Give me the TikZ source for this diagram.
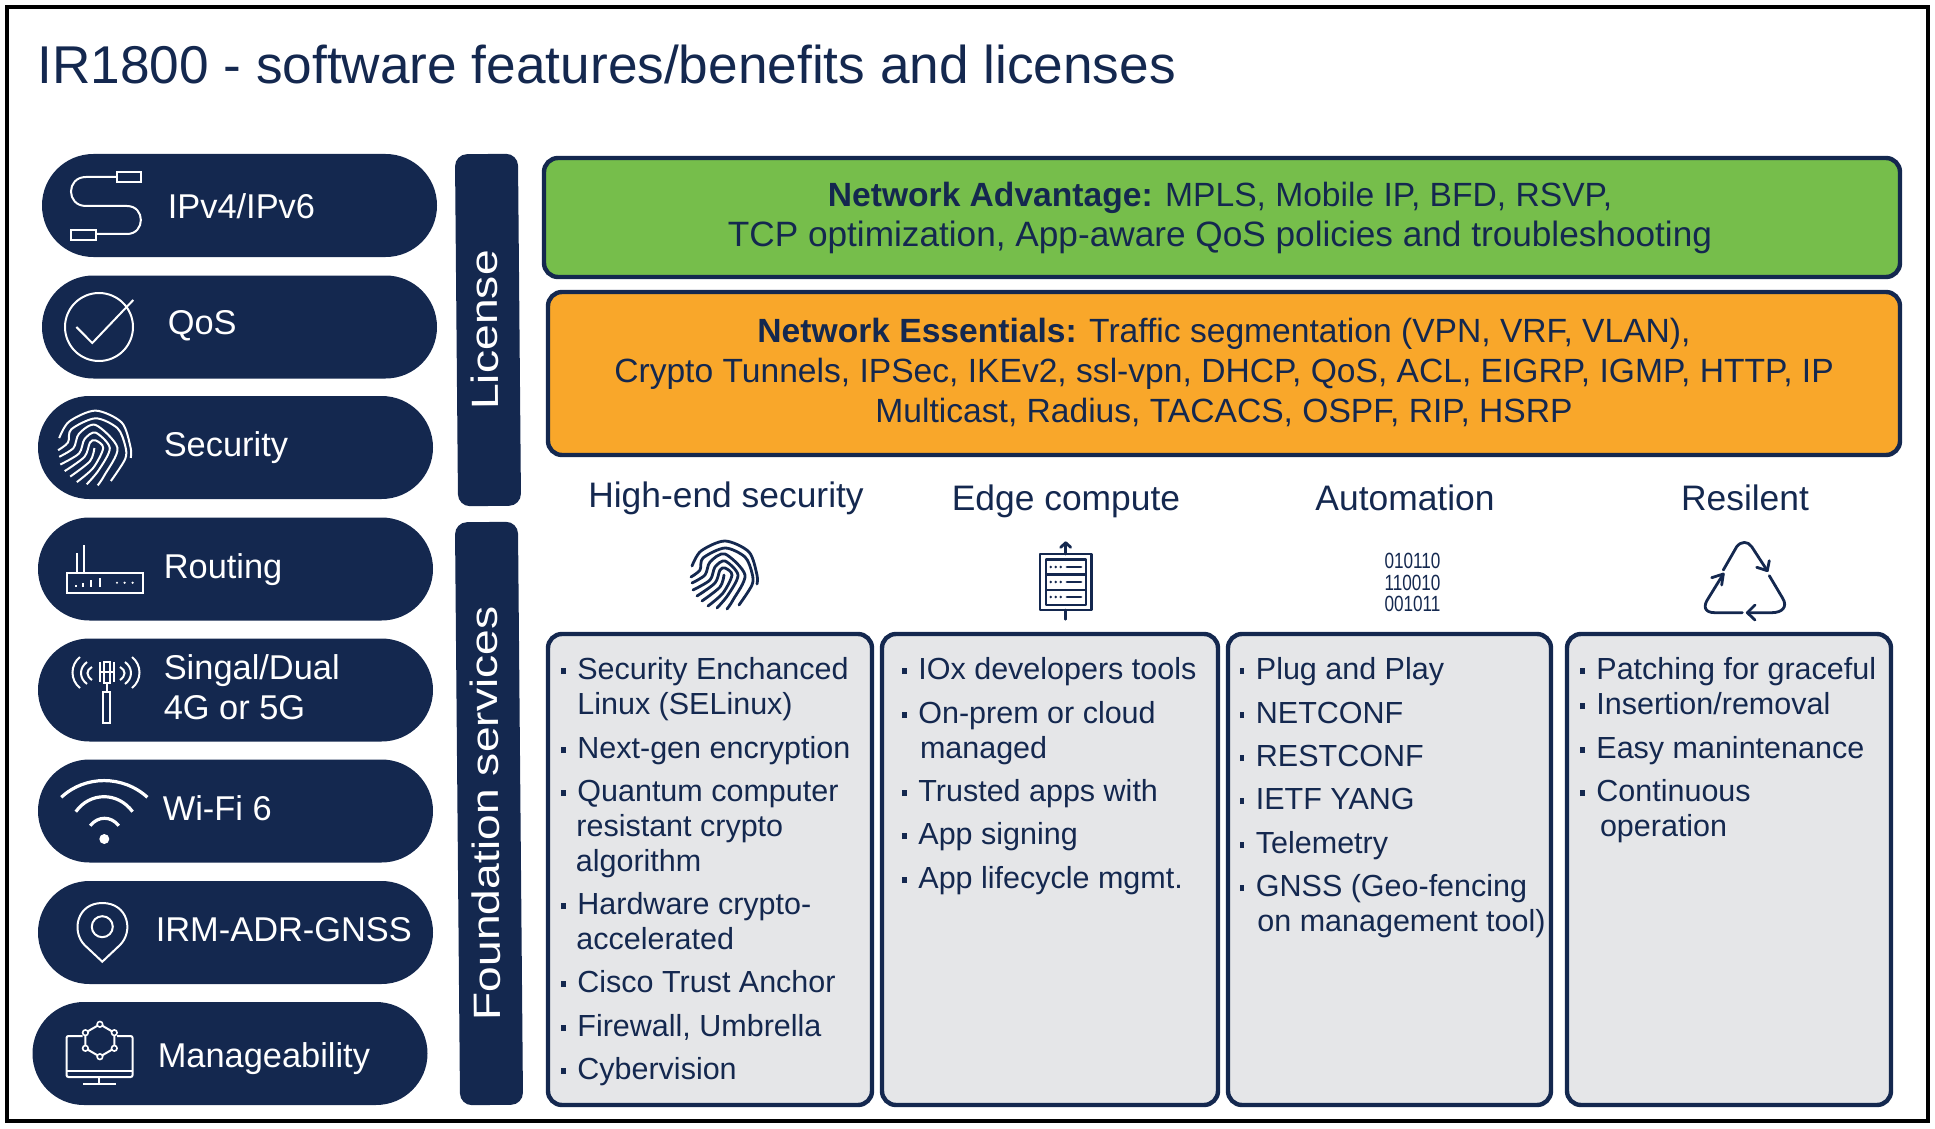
\documentclass[tikz,border=0pt]{standalone}
\usepackage{fontspec}
\setmainfont{Liberation Sans}
\newfontfamily\barfont[FakeStretch=1.22]{Liberation Sans}
\newfontfamily\bitfont[FakeStretch=0.78]{Liberation Sans}
\definecolor{navy}{HTML}{14284F}
\definecolor{leaf}{HTML}{76BE4B}
\definecolor{amber}{HTML}{F9A72A}
\definecolor{panel}{HTML}{E5E6E8}
\tikzset{
    pillbox/.style={fill=navy, minimum width=197.5pt, minimum height=51.5pt, inner sep=0pt, rounded corners=25.7pt},
    pilltext/.style={anchor=base west, inner sep=0pt, xshift=-0.8pt, yshift=-0.7pt, text=white, font=\fontsize{17.2}{20}\selectfont},
    barbox/.style={fill=navy, text=white, rotate=90.5, minimum height=31.5pt, inner sep=0pt, text depth=4pt, rounded corners=6pt},
    licbox/.style={draw=navy, line width=2.2pt, rounded corners=7pt, inner sep=0pt},
    lictext/.style={inner sep=0pt, align=center, text=navy, font=\fontsize{16.8}{20}\selectfont},
    colbox/.style={draw=navy, fill=panel, line width=2.2pt, rounded corners=7pt},
    coltitle/.style={anchor=base, inner sep=0pt, text=navy, font=\fontsize{17.7}{20}\selectfont},
    listtext/.style={anchor=base west, inner sep=0pt, xshift=-0.5pt, yshift=-0.6pt, text=navy, font=\fontsize{15.25}{18}\selectfont},
    lineicon/.style={white, line width=1pt},
    darkicon/.style={navy, line width=1.4pt, line cap=round, line join=round}
}
\newcommand{\blt}{\makebox[8pt][l]{\rule[2.5pt]{2.2pt}{3pt}}}
\newcommand{\fprint}[4]{
    \begin{scope}[shift={(#1,#2)}, scale=#3]
        \draw[#4] plot[smooth] coordinates {(-33,-9) (-24,-24) (0,-34) (24,-23) (32,0) (32,9)};
        \draw[#4] plot[smooth] coordinates {(-34,2) (-25,-5) (-22,-17) (0,-27) (20,-18) (27,-2) (27,10) (14,30)};
        \draw[#4] plot[smooth] coordinates {(-33,8) (-20,0) (-15,-13) (0,-21) (20,0) (8,25) (2,34)};
        \draw[#4] plot[smooth] coordinates {(-32,15) (-15,5) (-10,-8) (0,-14) (13,0) (3,20) (-8,33)};
        \draw[#4] plot[smooth] coordinates {(-28,21) (-10,8) (-5,-5) (0,-7) (7,0) (-2,18) (-17,31)};
        \draw[#4] plot[smooth] coordinates {(-23,26) (-5,12) (-1,0)};
    \end{scope}
}
\begin{document}
\begin{tikzpicture}[x=0.5pt, y=-0.5pt]
    \useasboundingbox (0,0) rectangle (1935,1129);
    \draw[black, line width=2pt] (7,7) rectangle (1928,1121);
    \node[anchor=base west, inner sep=0pt, text=navy, font=\fontsize{26.6}{30}\selectfont] (title) at (37,84) {IR1800 - software features/benefits and licenses};

    \node[pillbox] (ipv) at (239.5,205.5) {};
    \node[pillbox] (qos) at (239.5,327) {};
    \node[pillbox] (sec) at (235.5,447.5) {};
    \node[pillbox] (rout) at (235.5,569) {};
    \node[pillbox] (cell) at (235.5,690) {};
    \node[pillbox] (wifi) at (235.5,811) {};
    \node[pillbox] (gnss) at (235.5,932.5) {};
    \node[pillbox] (mgmt) at (230,1053.5) {};

    \node[pilltext] (ipvtext) at (169,217) {IPv4/IPv6};
    \node[pilltext] (qostext) at (169,333) {QoS};
    \node[pilltext] (sectext) at (165,455) {Security};
    \node[pilltext] (routtext) at (165,577) {Routing};
    \node[pilltext] (celltext) at (165,678) {Singal/Dual};
    \node[pilltext] (cellnext) at (165,718) {4G or 5G};
    \node[pilltext] (wifitext) at (164,819) {Wi-Fi 6};
    \node[pilltext] (gnsstext) at (157,940) {IRM-ADR-GNSS};
    \node[pilltext] (mgmttext) at (159,1066) {Manageability};

    \draw[lineicon] (117,172) rectangle (140.5,182);
    \draw[lineicon] (71,230) rectangle (96,240);
    \draw[lineicon] (117,177) -- (86,177) .. controls (66,177) and (66,206) .. (86,206) -- (127,206) .. controls (145.5,206) and (145.5,234) .. (127,234) -- (96,234);

    \draw[lineicon] (99,327) circle (34);
    \draw[lineicon] (76.4,327) -- (92.3,343) -- (133.3,300);

    \fprint{95.5}{448}{1.1}{lineicon}

    \draw[lineicon] (66.5,572.7) rectangle (143,593);
    \draw[lineicon] (76.5,553) -- (76.5,572.7);
    \draw[lineicon] (84,545) -- (84,572.7);
    \draw[lineicon] (76.4,587) -- (76.4,585);
    \draw[lineicon] (82.6,587) -- (82.6,583);
    \draw[lineicon] (91,587) -- (91,580);
    \draw[lineicon] (100,587) -- (100,578);
    \fill[white] (117,582.7) circle (1.2) (124.6,582.7) circle (1.2) (132.6,582.7) circle (1.2);

    \draw[lineicon] (103.3,691.7) rectangle (109.5,723);
    \draw[lineicon] (106.5,683) -- (106.5,691.7);
    \draw[lineicon] (100,672) -- (113.6,672);
    \draw[lineicon] (100,662) -- (100,682);
    \draw[lineicon] (113.6,662) -- (113.6,682);
    \draw[lineicon] (103.5,662) rectangle (110,683);
    \draw[lineicon] (80,657) .. controls (70,665) and (70,680) .. (80,688);
    \draw[lineicon] (87,662) .. controls (79,668) and (79,678) .. (87,684);
    \draw[lineicon] (92,667) .. controls (86,670) and (86,676) .. (92,680);
    \draw[lineicon] (132,657) .. controls (142,665) and (142,680) .. (132,688);
    \draw[lineicon] (125,662) .. controls (133,668) and (133,678) .. (125,684);
    \draw[lineicon] (120,667) .. controls (126,670) and (126,676) .. (120,680);

    \fill[white] (104.3,839) circle (5);
    \draw[white, line width=1.6pt] (61.3,797.3) .. controls (85,775) and (123,775) .. (147.4,797.3);
    \draw[white, line width=1.6pt] (75.8,811.7) .. controls (90,791.7) and (118,791.7) .. (132.6,811.7);
    \draw[white, line width=1.6pt] (90.2,825.7) .. controls (98,815.8) and (111,815.8) .. (118.8,825.7);

    \draw[lineicon] (102.3,926.7) circle (10.5);
    \draw[lineicon] (102.3,961.7) -- (84.5,945) .. controls (71,931) and (77,903) .. (102.3,903) .. controls (128,903) and (134,931) .. (120,945) -- cycle;

    \draw[lineicon, rounded corners=1pt] (82.6,1036) -- (66.5,1036) -- (66.5,1077) -- (132.6,1077) -- (132.6,1036) -- (117,1036);
    \draw[lineicon] (66.5,1070.7) -- (132.6,1070.7);
    \draw[lineicon] (99,1077) -- (99,1084);
    \draw[lineicon] (83.3,1084) -- (116,1084);
    \draw[lineicon] (99.9,1024.3) -- (114.3,1032.7) -- (114.3,1048.3) -- (99.9,1056.7) -- (85.4,1048.3) -- (85.4,1032.7) -- cycle;
    \filldraw[fill=navy, draw=white, line width=0.8pt] (99.9,1024.3) circle (2.8) (114.3,1032.7) circle (2.8) (114.3,1048.3) circle (2.8) (99.9,1056.7) circle (2.8) (85.4,1048.3) circle (2.8) (85.4,1032.7) circle (2.8);

    \node[barbox, minimum width=176pt, font=\barfont\fontsize{19}{20}\selectfont] (license) at (488,330) {License};
    \node[barbox, minimum width=291.5pt, font=\barfont\fontsize{19}{20}\selectfont] (foundation) at (489,813.5) {Foundation services};

    \node[licbox, fill=leaf, minimum width=678pt, minimum height=59.5pt] (advantage) at (1222,217.5) {};
    \node[lictext] (advtext) at (1220,217.5) {\textbf{Network Advantage:} MPLS, Mobile IP, BFD, RSVP,\\{\fontsize{17.6}{20}\selectfont TCP optimization, App-aware QoS policies and troubleshooting}};
    \node[licbox, fill=amber, minimum width=676pt, minimum height=81.5pt] (essentials) at (1224,373.5) {};
    \node[lictext] (esstext) at (1224,372) {\textbf{Network Essentials:} Traffic segmentation (VPN, VRF, VLAN),\\Crypto Tunnels, IPSec, IKEv2, ssl-vpn, DHCP, QoS, ACL, EIGRP, IGMP, HTTP, IP\\Multicast, Radius, TACACS, OSPF, RIP, HSRP};

    \node[coltitle] (sechead) at (726,507) {High-end security};
    \node[coltitle] (edgehead) at (1066,510) {Edge compute};
    \node[coltitle] (autohead) at (1405,510) {Automation};
    \node[coltitle] (reshead) at (1745,510) {Resilent};

    \fprint{725}{575}{1}{darkicon}

    \draw[darkicon, line cap=butt] (1040,554) rectangle (1091.7,610);
    \draw[darkicon, line cap=butt] (1046,559.3) rectangle (1086,605);
    \draw[darkicon, line cap=butt] (1046,574.3) -- (1086,574.3);
    \draw[darkicon, line cap=butt] (1046,590) -- (1086,590);
    \draw[darkicon] (1065.7,554) -- (1065.7,543);
    \draw[darkicon] (1060.7,547.3) -- (1065.7,542.7) -- (1070.7,547.3);
    \draw[darkicon] (1065.7,610) -- (1065.7,619.3);
    \draw[darkicon] (1067,567) -- (1081,567);
    \draw[darkicon] (1067,582) -- (1081,582);
    \draw[darkicon] (1067,597) -- (1081,597);
    \fill[navy] (1050.7,567) circle (1.3) (1055.7,567) circle (1.3) (1060.7,567) circle (1.3);
    \fill[navy] (1050.7,582) circle (1.3) (1055.7,582) circle (1.3) (1060.7,582) circle (1.3);
    \fill[navy] (1050.7,597) circle (1.3) (1055.7,597) circle (1.3) (1060.7,597) circle (1.3);

    \node[anchor=center, inner sep=0pt, align=center, text=navy, font=\bitfont\fontsize{11}{10.6}\selectfont] (bits) at (1412.5,582.5) {010110\\110010\\001011};

    \draw[darkicon] (1723.3,570) -- (1736.7,546.7) .. controls (1741,541) and (1748,541) .. (1751.7,546.7) -- (1767.3,570.7);
    \draw[darkicon] (1756.7,567.3) -- (1767.3,570.7) -- (1769.3,560.7);
    \draw[darkicon] (1769.3,575.7) -- (1782.7,598.3) .. controls (1788,607) and (1782,612.7) .. (1771.7,612.7) -- (1747.3,612.7);
    \draw[darkicon] (1755,605) -- (1747.3,612.7) -- (1755,620);
    \draw[darkicon] (1742.3,612.7) -- (1715,612.7) .. controls (1704,612.7) and (1703,606) .. (1708.3,598.3) -- (1723.3,574);
    \draw[darkicon] (1711.7,577.7) -- (1723.3,574) -- (1721.7,585);

    \node[colbox, minimum width=162pt, minimum height=235.5pt] (seccol) at (710,869.5) {};
    \node[colbox, minimum width=168pt, minimum height=235.5pt] (edgecol) at (1050,869.5) {};
    \node[colbox, minimum width=161.5pt, minimum height=235.5pt] (autocol) at (1389.5,869.5) {};
    \node[colbox, minimum width=162pt, minimum height=235.5pt] (rescol) at (1729,869.5) {};

    \node[listtext] (seca) at (562,678) {\blt Security Enchanced};
    \node[listtext] (secb) at (578,713) {Linux (SELinux)};
    \node[listtext] (secc) at (562,757) {\blt Next-gen encryption};
    \node[listtext] (secd) at (562,800) {\blt Quantum computer};
    \node[listtext] (sece) at (577,835) {resistant crypto};
    \node[listtext] (secf) at (576.5,870) {algorithm};
    \node[listtext] (secg) at (562,913) {\blt Hardware crypto-};
    \node[listtext] (sech) at (577,948) {accelerated};
    \node[listtext] (seci) at (562,991) {\blt Cisco Trust Anchor};
    \node[listtext] (secj) at (562,1035) {\blt Firewall, Umbrella};
    \node[listtext] (seck) at (562,1078) {\blt Cybervision};

    \node[listtext] (edgea) at (903,678) {\blt IOx developers tools};
    \node[listtext] (edgeb) at (903,722) {\blt On-prem or cloud};
    \node[listtext] (edgec) at (920.6,757) {managed};
    \node[listtext] (edged) at (903,800) {\blt Trusted apps with};
    \node[listtext] (edgee) at (903,843) {\blt App signing};
    \node[listtext] (edgef) at (903,887) {\blt App lifecycle mgmt.};

    \node[listtext] (autoa) at (1240.5,678) {\blt Plug and Play};
    \node[listtext] (autob) at (1240.5,722) {\blt NETCONF};
    \node[listtext] (autoc) at (1240.5,765) {\blt RESTCONF};
    \node[listtext] (autod) at (1240.5,808) {\blt IETF YANG};
    \node[listtext] (autoe) at (1240.5,852) {\blt Telemetry};
    \node[listtext] (autof) at (1240.5,895) {\blt GNSS (Geo-fencing};
    \node[listtext] (autog) at (1258,930) {on management tool)};

    \node[listtext] (resa) at (1581,678) {\blt Patching for graceful};
    \node[listtext] (resb) at (1581,713) {\blt Insertion/removal};
    \node[listtext] (resc) at (1581,757) {\blt Easy manintenance};
    \node[listtext] (resd) at (1581,800) {\blt Continuous};
    \node[listtext] (rese) at (1600.6,835) {operation};
\end{tikzpicture}
\end{document}
